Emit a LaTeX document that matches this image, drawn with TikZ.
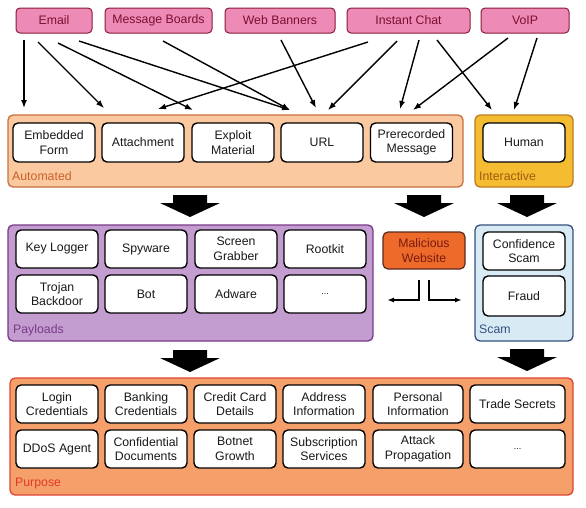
\documentclass[tikz,border=0pt]{standalone}
\usepackage{fontspec}
\setmainfont{Liberation Sans}
\usetikzlibrary{arrows.meta}
\definecolor{srcf}{HTML}{EE8AB6}
\definecolor{srcb}{HTML}{8B1A3A}
\definecolor{srct}{HTML}{7A1030}
\definecolor{autof}{HTML}{FBC9A0}
\definecolor{autob}{HTML}{C8703C}
\definecolor{autot}{HTML}{C8602A}
\definecolor{intf}{HTML}{F4BC30}
\definecolor{intb}{HTML}{C07A20}
\definecolor{intt}{HTML}{A05A10}
\definecolor{payf}{HTML}{C39CD0}
\definecolor{payb}{HTML}{7A3A8A}
\definecolor{payt}{HTML}{7A3A8A}
\definecolor{scamf}{HTML}{D8EBF5}
\definecolor{scamb}{HTML}{34507F}
\definecolor{scamt}{HTML}{34507F}
\definecolor{purf}{HTML}{F5A06A}
\definecolor{purb}{HTML}{E04434}
\definecolor{purt}{HTML}{E03A28}
\definecolor{malf}{HTML}{EE6A2A}
\definecolor{malb}{HTML}{5A2A1A}
\definecolor{malt}{HTML}{7A1A10}
\tikzset{
  txt/.style={font=\fontsize{12.3}{14.5}\selectfont},
  src/.style={txt, draw=srcb, fill=srcf, text=srct, line width=1pt, rounded corners=4pt, inner sep=0pt, minimum height=25pt},
  cont/.style={line width=1.3pt, rounded corners=5pt, inner sep=0pt},
  item/.style={txt, draw=black, fill=white, text=black!90, line width=1.4pt, rounded corners=5pt, inner sep=0pt, align=center, minimum width=82pt},
  lab/.style={txt, anchor=base west, inner sep=0pt},
  arr/.style={line width=1.4pt, -{Latex[length=8pt,width=6pt]}},
  elbow/.style={line width=1.4pt, -{Latex[length=7pt,width=5pt]}},
}
\newcommand{\blockarrow}[2]{%
  \fill[black] (#1-17,#2) -- (#1+17,#2) -- (#1+17,#2+8) -- (#1+30,#2+8) -- (#1,#2+22) -- (#1-30,#2+8) -- (#1-17,#2+8) -- cycle;}
\begin{document}
\begin{tikzpicture}[x=1pt,y=-1pt]
\useasboundingbox (0,0) rectangle (586,507);
\fill[white] (0,0) rectangle (586,507);

% sources
\node[src, minimum width=76pt] (email) at (54,20.5) {Email};
\node[src, minimum width=107pt] (boards) at (158.5,20.5) {Message Boards};
\node[src, minimum width=110pt] (banners) at (280,20.5) {Web Banners};
\node[src, minimum width=123pt] (chat) at (408.5,20.5) {Instant Chat};
\node[src, minimum width=88pt] (voip) at (525,20.5) {VoIP};

% containers
\node[cont, draw=autob, fill=autof, minimum width=455pt, minimum height=72pt] (automated) at (235.5,151) {};
\node[cont, draw=intb, fill=intf, minimum width=98pt, minimum height=72pt] (interactive) at (524,151) {};
\node[cont, draw=payb, fill=payf, minimum width=365pt, minimum height=116pt] (payloads) at (190.5,283) {};
\node[cont, draw=scamb, fill=scamf, minimum width=98pt, minimum height=116pt] (scam) at (524,283) {};
\node[cont, draw=purb, fill=purf, minimum width=563pt, minimum height=117pt] (purpose) at (291.5,436.5) {};

\node[lab, text=autot] (automatedlab) at (12,180) {Automated};
\node[lab, text=intt] (interactivelab) at (479,180) {Interactive};
\node[lab, text=payt] (payloadslab) at (13,333) {Payloads};
\node[lab, text=scamt] (scamlab) at (479,333) {Scam};
\node[lab, text=purt] (purposelab) at (15,486) {Purpose};

% automated items
\node[item, minimum height=39pt] (form) at (54,142.5) {Embedded\\Form};
\node[item, minimum height=39pt] (attach) at (143,142.5) {Attachment};
\node[item, minimum height=39pt] (exploit) at (233,142.5) {Exploit\\Material};
\node[item, minimum height=39pt] (url) at (322,142.5) {URL};
\node[item, minimum height=39pt] (prerec) at (411.5,142.5) {Prerecorded\\Message};
\node[item, minimum height=39pt] (human) at (524,142.5) {Human};

% payload items
\node[item, minimum height=38pt] (keylog) at (57,249) {Key Logger};
\node[item, minimum height=38pt] (spy) at (146,249) {Spyware};
\node[item, minimum height=38pt] (grab) at (236,249) {Screen\\Grabber};
\node[item, minimum height=38pt] (rootkit) at (325,249) {Rootkit};
\node[item, minimum height=38pt] (trojan) at (57,294) {Trojan\\Backdoor};
\node[item, minimum height=38pt] (bot) at (146,294) {Bot};
\node[item, minimum height=38pt] (adware) at (236,294) {Adware};
\node[item, minimum height=38pt] (pmore) at (325,294) {\fontsize{9}{10}\selectfont ...};

% scam items
\node[item, minimum height=38pt] (confidence) at (524,251) {Confidence\\Scam};
\node[item, minimum height=40pt] (fraud) at (524,296) {Fraud};

% malicious website
\node[txt, draw=malb, fill=malf, text=malt, line width=1.2pt, rounded corners=5pt, inner sep=0pt, align=center, minimum width=82pt, minimum height=37pt] (malicious) at (424,250.5) {Malicious\\Website};

% purpose items
\node[item, minimum height=38pt] (login) at (57,404) {Login\\Credentials};
\node[item, minimum height=38pt] (banking) at (146,404) {Banking\\Credentials};
\node[item, minimum height=38pt] (credit) at (235,404) {Credit Card\\Details};
\node[item, minimum height=38pt] (address) at (324,404) {Address\\Information};
\node[item, minimum height=38pt, minimum width=90pt] (personal) at (418,404) {Personal\\Information};
\node[item, minimum height=38pt, minimum width=95pt] (trade) at (517.5,404) {Trade Secrets};
\node[item, minimum height=38pt] (ddos) at (57,449) {DDoS Agent};
\node[item, minimum height=38pt] (confdoc) at (146,449) {Confidential\\Documents};
\node[item, minimum height=38pt] (botnet) at (235,449) {Botnet\\Growth};
\node[item, minimum height=38pt] (subscr) at (324,449) {Subscription\\Services};
\node[item, minimum height=38pt, minimum width=90pt] (attackp) at (418,449) {Attack\\Propagation};
\node[item, minimum height=38pt, minimum width=95pt] (umore) at (517.5,449) {\fontsize{9}{10}\selectfont ...};

% arrow start coordinates
\coordinate (emailA) at (24,40);
\coordinate (emailB) at (38,42);
\coordinate (emailC) at (58,43);
\coordinate (emailD) at (79,41);
\coordinate (boardsA) at (163,41);
\coordinate (bannersA) at (281,40);
\coordinate (chatA) at (368,42);
\coordinate (chatB) at (397,41);
\coordinate (chatC) at (419,40);
\coordinate (chatD) at (437,40);
\coordinate (voipA) at (508,38);
\coordinate (voipB) at (537,38);
% arrow end coordinates
\coordinate (formT) at (24,108);
\coordinate (attachT) at (104,108);
\coordinate (attachU) at (158,109);
\coordinate (exploitT) at (193,110);
\coordinate (urlT) at (290,110);
\coordinate (urlU) at (316,108);
\coordinate (urlV) at (328,110);
\coordinate (prerecT) at (400,109);
\coordinate (prerecU) at (413,110);
\coordinate (humanT) at (492,110);
\coordinate (humanU) at (514,110);

\draw[arr] (emailA) -- (formT);
\draw[arr] (emailB) -- (attachT);
\draw[arr] (emailC) -- (exploitT);
\draw[arr] (emailD) -- (urlT);
\draw[arr] (boardsA) -- (urlT);
\draw[arr] (bannersA) -- (urlU);
\draw[arr] (chatA) -- (attachU);
\draw[arr] (chatB) -- (urlV);
\draw[arr] (chatC) -- (prerecT);
\draw[arr] (chatD) -- (humanT);
\draw[arr] (voipA) -- (prerecU);
\draw[arr] (voipB) -- (humanU);

% block arrows
\blockarrow{190}{195}
\blockarrow{424}{195}
\blockarrow{527}{195}
\blockarrow{190}{350}
\blockarrow{527}{349}

% elbow arrows below malicious website
\coordinate (malL) at (419,280);
\coordinate (malR) at (429,280);
\coordinate (toPay) at (387,300);
\coordinate (toScam) at (462,300);
\draw[elbow] (malL) |- (toPay);
\draw[elbow] (malR) |- (toScam);
\end{tikzpicture}
\end{document}
